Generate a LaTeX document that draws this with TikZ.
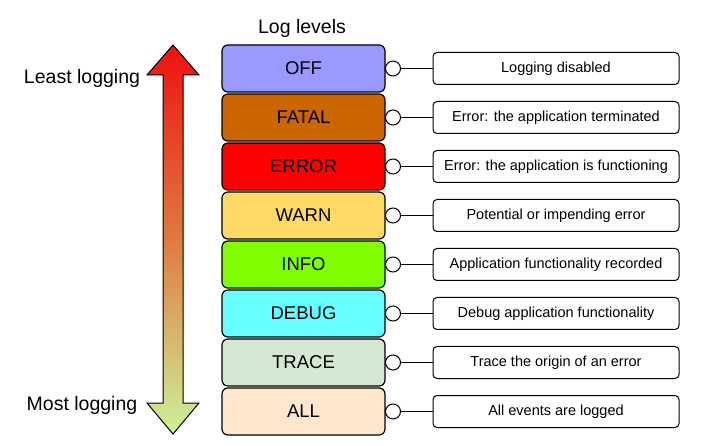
\documentclass[tikz,border=0pt]{standalone}
\usepackage{fontspec}
\setmainfont{Liberation Sans}
\begin{document}
\begin{tikzpicture}[x=1pt,y=-1pt,
  lvl/.style={draw=black, line width=1.2pt, rounded corners=6pt, minimum width=163pt, minimum height=47pt, font=\fontsize{18.5}{20}\selectfont, inner sep=0pt},
  desc/.style={draw=black, line width=1pt, rounded corners=4pt, minimum width=246pt, minimum height=32pt, font=\fontsize{14.5}{16}\selectfont, inner sep=0pt},
  knob/.style={circle, draw=black, fill=white, line width=1pt, minimum size=15pt, inner sep=0pt},
  conn/.style={line width=1pt},
  side/.style={font=\fontsize{19.5}{21}\selectfont}]
\useasboundingbox (0,0) rectangle (707,446);
\definecolor{cOFF}{HTML}{9999FF}
\definecolor{cFATAL}{HTML}{CC6600}
\definecolor{cERROR}{HTML}{FF0000}
\definecolor{cWARN}{HTML}{FFD966}
\definecolor{cINFO}{HTML}{80FF00}
\definecolor{cDEBUG}{HTML}{66FFFF}
\definecolor{cTRACE}{HTML}{D5E8D4}
\definecolor{cALL}{HTML}{FFE6CC}
\definecolor{atop}{HTML}{EE1111}
\definecolor{amid}{HTML}{E07A40}
\definecolor{abot}{HTML}{CCF299}

\node[side] (title) at (302,28) {Log levels};
\node[side] (least) at (82,78) {Least logging};
\node[side] (most) at (82,405) {Most logging};

% gradient double arrow
\shade[top color=atop, bottom color=abot, middle color=amid, draw=black, line width=1pt, line join=miter]
  (173,45) -- (199,75) -- (183,75) -- (183,403) -- (199,403) -- (173,434)
  -- (147,403) -- (163,403) -- (163,75) -- (147,75) -- cycle;

\foreach \n/\t/\d [count=\i from 0] in {
  OFF/OFF/Logging disabled,
  FATAL/FATAL/Error: the application terminated,
  ERROR/ERROR/Error: the application is functioning,
  WARN/WARN/Potential or impending error,
  INFO/INFO/Application functionality recorded,
  DEBUG/DEBUG/Debug application functionality,
  TRACE/TRACE/Trace the origin of an error,
  ALL/ALL/All events are logged} {
  \node[lvl, fill=c\n] (L\n) at (303.5, 68.5+49*\i) {\t};
  \node[desc] (D\n) at (556, 68.5+49*\i) {\d};
  \node[knob] (K\n) at (393, 68.5+49*\i) {};
  \draw[conn] (K\n) -- (D\n);
}
\end{tikzpicture}
\end{document}
